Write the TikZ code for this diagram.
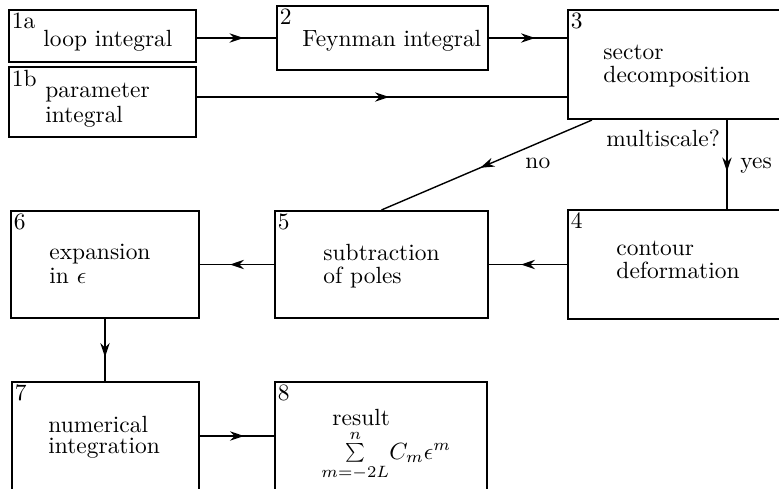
\documentclass[tikz,border=0pt]{standalone}
\usepackage{amsmath,graphicx}
\usetikzlibrary{arrows.meta,positioning,calc,fit,decorations.markings}

\begin{document}
\begin{tikzpicture}[x=0.015cm, y=-0.015cm]
    \tikzset{blk/.style={rectangle, draw, line width=0.9pt, inner sep=0pt},
      num/.style={anchor=north west, inner sep=1.5pt},
      txt/.style={anchor=base west, inner sep=0pt},
      flow/.style={line width=0.6pt, postaction={decorate}, decoration={markings,
        mark=at position 0.5 with {\arrow[xshift=3pt]{Stealth[length=6pt,width=4pt]}}}}}
    \useasboundingbox (0,0) rectangle (779,488);
    \clip (0,0) rectangle (779,488);

    % Box 1a: loop integral
    \node[blk, fit={(9,10) (196,62)}] (b1a) {};
    \node[num] (n1a) at (b1a.north west) {1a};
    \node[txt] (t1a) at (43,46) {loop integral};

    % Box 1b: parameter integral
    \node[blk, fit={(9,67) (196,137)}] (b1b) {};
    \node[num] (n1b) at (b1b.north west) {1b};
    \node[txt] (t1b1) at (45,97) {parameter};
    \node[txt] (t1b2) at (45,122) {integral};

    % Box 2: Feynman integral
    \node[blk, fit={(277,6) (488,70)}] (b2) {};
    \node[num] (n2) at (b2.north west) {2};
    \node[txt] (t2) at (302,46) {Feynman integral};

    % Box 3: sector decomposition
    \node[blk, fit={(568,10) (781,119)}] (b3) {};
    \node[num] (n3) at (b3.north west) {3};
    \node[txt] (t31) at (603,59) {sector};
    \node[txt] (t32) at (603,82) {decomposition};

    % Box 4: contour deformation
    \node[blk, fit={(568,210) (781,319)}] (b4) {};
    \node[num] (n4) at (b4.north west) {4};
    \node[txt] (t41) at (616,255) {contour};
    \node[txt] (t42) at (616,278) {deformation};

    % Box 5: subtraction of poles
    \node[blk, fit={(275,211) (488,318)}] (b5) {};
    \node[num] (n5) at (b5.north west) {5};
    \node[txt] (t51) at (323,260) {subtraction};
    \node[txt] (t52) at (323,283) {of poles};

    % Box 6: expansion in eps
    \node[blk, fit={(11,211) (199,318)}] (b6) {};
    \node[num] (n6) at (b6.north west) {6};
    \node[txt] (t61) at (49,259) {expansion};
    \node[txt] (t62) at (49,283) {in $\epsilon$};

    % Box 7: numerical integration
    \node[blk, fit={(12,382) (199,490)}] (b7) {};
    \node[num] (n7) at (b7.north west) {7};
    \node[txt] (t71) at (48,432) {numerical};
    \node[txt] (t72) at (48,453) {integration};

    % Box 8: result
    \node[blk, fit={(275,382) (487,490)}] (b8) {};
    \node[num] (n8) at (b8.north west) {8};
    \node[txt] (t81) at (332,425) {result};
    \node[txt] (t82) at (321,459)
      {$\mathop{\vcenter{\hbox{\scalebox{0.8}{$\textstyle\sum$}}}}\limits_{m=-2L}^{n}\!C_m\epsilon^m$};

    % connectors
    \coordinate (c1b) at ($(b1b.east)+(0,-5)$);
    \coordinate (c3no) at ($(b3.south west)+(25,0)$);
    \coordinate (c3yes) at ($(b3.south west)+(160,0)$);
    \draw[flow] (b2.west -| b1a.east) -- (b2.west);
    \draw[flow] (b2.east) -- (b2.east -| b3.west);
    \draw[flow] (c1b) -- (c1b -| b3.west);
    \draw[flow] (c3no) -- (b5.north);
    \draw[flow] (c3yes) -- (c3yes |- b4.north);
    \draw[flow] (b4.west) -- (b5.east);
    \draw[flow] (b5.west) -- (b6.east);
    \draw[flow] (b6.south) -- (b6.south |- b7.north);
    \draw[flow] (b7.east) -- (b8.west);

    \node[txt] (lms) at (606,146) {multiscale?};
    \node[txt] (lyes) at (740,168) {yes};
    \node[txt] (lno) at (525,168) {no};
  \end{tikzpicture}
\end{document}
